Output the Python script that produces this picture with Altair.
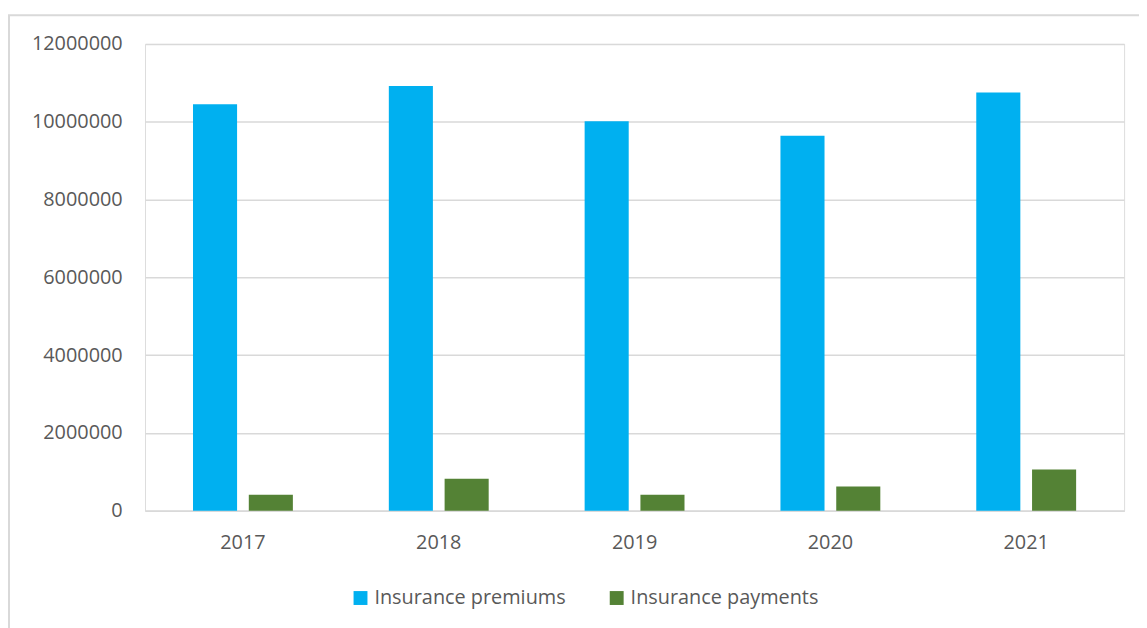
import altair as alt
import pandas as pd

years = ["2017", "2018", "2019", "2020", "2021"]
premiums = [10450000, 10920000, 10010000, 9640000, 10750000]
payments = [410000, 820000, 410000, 620000, 1060000]
series = ["Insurance premiums", "Insurance payments"]
colors = ["#00B0F0", "#548235"]
y_ticks = [0, 2000000, 4000000, 6000000, 8000000, 10000000, 12000000]

rows = []
for i, yr in enumerate(years):
    rows.append({"year": yr, "series": series[0], "value": premiums[i]})
    rows.append({"year": yr, "series": series[1], "value": payments[i]})
df = pd.DataFrame(rows)

FONT = "Open Sans"
GREY = "#595959"
LINE = "#d9d9d9"

bars = alt.Chart(df).mark_bar().encode(
    x=alt.X("year:N", sort=years, title=None,
            scale=alt.Scale(paddingInner=0.49, paddingOuter=0.245),
            axis=alt.Axis(labelAngle=0, ticks=False, domainColor=LINE, domainWidth=1.5,
                          labelFont=FONT, labelFontSize=20, labelColor=GREY,
                          labelPadding=22, grid=False)),
    xOffset=alt.XOffset("series:N", sort=series, scale=alt.Scale(paddingInner=0.21)),
    y=alt.Y("value:Q", title=None,
            scale=alt.Scale(domain=[0, 12000000], nice=False),
            axis=alt.Axis(values=y_ticks, format="d", domain=False, ticks=False,
                          gridColor=LINE, gridWidth=1.5,
                          labelFont=FONT, labelFontSize=20, labelColor=GREY,
                          labelPadding=23)),
    color=alt.Color("series:N", sort=series, title=None,
                    scale=alt.Scale(domain=series, range=colors),
                    legend=alt.Legend(orient="none", legendX=207, legendY=548,
                                      direction="horizontal", symbolType="square",
                                      symbolSize=196, symbolStrokeWidth=0,
                                      labelFont=FONT, labelFontSize=20, labelColor=GREY,
                                      labelLimit=0, labelOffset=4, columnPadding=41)),
)

frame = alt.Chart(pd.DataFrame({"k": [0]})).mark_rect(
    fill=None, stroke=LINE, strokeWidth=2
).encode(
    x=alt.value(-137), x2=alt.value(1030),
    y=alt.value(-29), y2=alt.value(620),
)

chart = alt.layer(frame, bars).properties(
    width=986, height=470,
    autosize=alt.AutoSizeParams(type="none"),
    padding={"left": 138, "top": 34, "right": 15, "bottom": 116},
).configure_view(stroke=None).configure(background="white")

chart.save("out.html", embed_options={"renderer": "svg", "actions": False})
